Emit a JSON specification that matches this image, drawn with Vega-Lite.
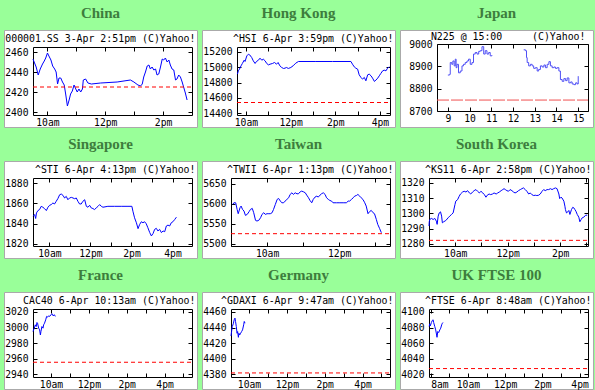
{
"$schema":"https://vega.github.io/schema/vega-lite/v6.json",
"background":"#99ff99",
"padding":{"left":3,"top":5,"right":3,"bottom":5},
"bounds":"flush",
"spacing":{"row":34,"column":5},
"columns":3,
"datasets":{
"china":[{"h":9.5,"v":2453},{"h":9.54,"v":2450},{"h":9.61,"v":2445},{"h":9.68,"v":2437},{"h":9.75,"v":2443},{"h":9.83,"v":2448},{"h":9.89,"v":2451},{"h":9.94,"v":2454},{"h":10.0,"v":2459},{"h":10.05,"v":2456},{"h":10.12,"v":2452},{"h":10.18,"v":2446},{"h":10.25,"v":2443},{"h":10.3,"v":2440},{"h":10.35,"v":2428},{"h":10.4,"v":2434},{"h":10.46,"v":2434},{"h":10.52,"v":2430},{"h":10.58,"v":2427},{"h":10.63,"v":2418},{"h":10.69,"v":2406},{"h":10.75,"v":2412},{"h":10.8,"v":2418},{"h":10.86,"v":2421},{"h":10.92,"v":2427},{"h":10.98,"v":2423},{"h":11.03,"v":2420},{"h":11.09,"v":2423},{"h":11.15,"v":2420},{"h":11.21,"v":2423},{"h":11.24,"v":2432},{"h":11.32,"v":2433},{"h":11.4,"v":2429},{"h":11.52,"v":2428},{"h":11.84,"v":2429},{"h":12.41,"v":2430},{"h":12.87,"v":2432},{"h":12.99,"v":2430},{"h":13.13,"v":2427},{"h":13.22,"v":2426},{"h":13.28,"v":2428},{"h":13.33,"v":2435},{"h":13.39,"v":2440},{"h":13.45,"v":2446},{"h":13.51,"v":2447},{"h":13.56,"v":2443},{"h":13.62,"v":2445},{"h":13.68,"v":2442},{"h":13.74,"v":2443},{"h":13.79,"v":2437},{"h":13.85,"v":2438},{"h":13.91,"v":2445},{"h":13.97,"v":2453},{"h":14.02,"v":2452},{"h":14.08,"v":2454},{"h":14.14,"v":2450},{"h":14.2,"v":2452},{"h":14.25,"v":2447},{"h":14.31,"v":2443},{"h":14.37,"v":2442},{"h":14.43,"v":2432},{"h":14.48,"v":2433},{"h":14.54,"v":2437},{"h":14.6,"v":2435},{"h":14.66,"v":2430},{"h":14.71,"v":2425},{"h":14.77,"v":2419},{"h":14.83,"v":2412}],
"hk":[{"h":9.62,"v":14910},{"h":9.66,"v":14953},{"h":9.71,"v":14975},{"h":9.78,"v":15018},{"h":9.84,"v":15049},{"h":9.92,"v":15092},{"h":9.96,"v":15075},{"h":10.04,"v":15148},{"h":10.11,"v":15170},{"h":10.17,"v":15161},{"h":10.26,"v":15126},{"h":10.33,"v":15083},{"h":10.41,"v":15049},{"h":10.47,"v":15075},{"h":10.56,"v":15092},{"h":10.63,"v":15118},{"h":10.71,"v":15092},{"h":10.78,"v":15105},{"h":10.86,"v":15083},{"h":10.93,"v":15049},{"h":11.01,"v":15031},{"h":11.08,"v":15040},{"h":11.19,"v":15049},{"h":11.28,"v":15062},{"h":11.37,"v":15040},{"h":11.44,"v":15062},{"h":11.52,"v":15018},{"h":11.6,"v":14997},{"h":11.68,"v":14984},{"h":11.75,"v":14988},{"h":11.81,"v":14997},{"h":11.9,"v":14984},{"h":12.01,"v":14997},{"h":12.11,"v":15018},{"h":12.23,"v":15053},{"h":12.35,"v":15075},{"h":13.13,"v":15075},{"h":13.88,"v":15075},{"h":14.7,"v":15075},{"h":14.77,"v":15040},{"h":14.85,"v":15005},{"h":14.92,"v":14988},{"h":15.0,"v":14975},{"h":15.07,"v":14901},{"h":15.15,"v":14867},{"h":15.22,"v":14845},{"h":15.3,"v":14867},{"h":15.37,"v":14823},{"h":15.45,"v":14901},{"h":15.52,"v":14910},{"h":15.6,"v":14888},{"h":15.67,"v":14858},{"h":15.75,"v":14815},{"h":15.82,"v":14832},{"h":15.9,"v":14858},{"h":15.97,"v":14888},{"h":16.04,"v":14919},{"h":16.12,"v":14953},{"h":16.19,"v":14962},{"h":16.27,"v":14953},{"h":16.34,"v":14988},{"h":16.42,"v":15005}],
"japan":[{"seg":1,"h":9.0,"v":8861},{"seg":1,"h":9.08,"v":8864},{"seg":1,"h":9.11,"v":8917},{"seg":1,"h":9.18,"v":8909},{"seg":1,"h":9.23,"v":8924},{"seg":1,"h":9.29,"v":8902},{"seg":1,"h":9.34,"v":8932},{"seg":1,"h":9.38,"v":8894},{"seg":1,"h":9.42,"v":8909},{"seg":1,"h":9.49,"v":8871},{"seg":1,"h":9.57,"v":8879},{"seg":1,"h":9.65,"v":8902},{"seg":1,"h":9.72,"v":8909},{"seg":1,"h":9.8,"v":8917},{"seg":1,"h":9.88,"v":8924},{"seg":1,"h":9.95,"v":8932},{"seg":1,"h":10.03,"v":8909},{"seg":1,"h":10.11,"v":8917},{"seg":1,"h":10.18,"v":8955},{"seg":1,"h":10.26,"v":8962},{"seg":1,"h":10.34,"v":8955},{"seg":1,"h":10.42,"v":8967},{"seg":1,"h":10.49,"v":8970},{"seg":1,"h":10.57,"v":8988},{"seg":1,"h":10.65,"v":8955},{"seg":1,"h":10.72,"v":8970},{"seg":1,"h":10.8,"v":8955},{"seg":1,"h":10.88,"v":8962},{"seg":1,"h":10.95,"v":8947},{"seg":1,"h":11.03,"v":8950},{"seg":2,"h":12.49,"v":8974},{"seg":2,"h":12.57,"v":8970},{"seg":2,"h":12.62,"v":8939},{"seg":2,"h":12.65,"v":8917},{"seg":2,"h":12.72,"v":8902},{"seg":2,"h":12.8,"v":8909},{"seg":2,"h":12.88,"v":8902},{"seg":2,"h":12.95,"v":8891},{"seg":2,"h":13.03,"v":8894},{"seg":2,"h":13.11,"v":8879},{"seg":2,"h":13.18,"v":8886},{"seg":2,"h":13.26,"v":8902},{"seg":2,"h":13.34,"v":8897},{"seg":2,"h":13.42,"v":8906},{"seg":2,"h":13.49,"v":8894},{"seg":2,"h":13.57,"v":8909},{"seg":2,"h":13.65,"v":8921},{"seg":2,"h":13.72,"v":8902},{"seg":2,"h":13.8,"v":8894},{"seg":2,"h":13.88,"v":8897},{"seg":2,"h":13.95,"v":8891},{"seg":2,"h":14.03,"v":8894},{"seg":2,"h":14.11,"v":8879},{"seg":2,"h":14.18,"v":8841},{"seg":2,"h":14.26,"v":8833},{"seg":2,"h":14.34,"v":8845},{"seg":2,"h":14.42,"v":8836},{"seg":2,"h":14.49,"v":8848},{"seg":2,"h":14.57,"v":8826},{"seg":2,"h":14.65,"v":8830},{"seg":2,"h":14.72,"v":8821},{"seg":2,"h":14.8,"v":8818},{"seg":2,"h":14.88,"v":8826},{"seg":2,"h":14.95,"v":8821},{"seg":2,"h":15.0,"v":8856}],
"sing":[{"h":9.21,"v":1847.4},{"h":9.28,"v":1849.0},{"h":9.33,"v":1845.1},{"h":9.37,"v":1850.6},{"h":9.44,"v":1852.9},{"h":9.52,"v":1853.9},{"h":9.6,"v":1857.1},{"h":9.68,"v":1856.2},{"h":9.76,"v":1854.9},{"h":9.85,"v":1852.9},{"h":9.93,"v":1856.2},{"h":10.01,"v":1858.1},{"h":10.09,"v":1858.8},{"h":10.17,"v":1860.4},{"h":10.25,"v":1859.4},{"h":10.33,"v":1862.0},{"h":10.41,"v":1864.6},{"h":10.5,"v":1868.5},{"h":10.58,"v":1869.2},{"h":10.66,"v":1867.9},{"h":10.74,"v":1865.3},{"h":10.82,"v":1866.9},{"h":10.9,"v":1863.6},{"h":10.98,"v":1865.3},{"h":11.07,"v":1865.9},{"h":11.15,"v":1865.3},{"h":11.23,"v":1864.6},{"h":11.31,"v":1865.3},{"h":11.39,"v":1862.0},{"h":11.47,"v":1859.4},{"h":11.55,"v":1859.4},{"h":11.63,"v":1862.0},{"h":11.72,"v":1863.6},{"h":11.8,"v":1857.1},{"h":11.88,"v":1856.2},{"h":11.96,"v":1858.1},{"h":12.04,"v":1855.5},{"h":12.12,"v":1854.9},{"h":12.2,"v":1853.9},{"h":12.28,"v":1855.5},{"h":12.37,"v":1857.1},{"h":12.45,"v":1858.8},{"h":12.53,"v":1857.1},{"h":12.61,"v":1856.2},{"h":12.85,"v":1857.1},{"h":13.18,"v":1857.1},{"h":13.5,"v":1857.1},{"h":13.83,"v":1857.1},{"h":14.02,"v":1857.1},{"h":14.07,"v":1852.3},{"h":14.15,"v":1845.8},{"h":14.24,"v":1840.9},{"h":14.32,"v":1835.1},{"h":14.4,"v":1839.3},{"h":14.48,"v":1841.9},{"h":14.56,"v":1840.9},{"h":14.64,"v":1841.9},{"h":14.72,"v":1839.9},{"h":14.8,"v":1836.0},{"h":14.89,"v":1831.2},{"h":14.97,"v":1827.9},{"h":15.05,"v":1830.2},{"h":15.13,"v":1834.4},{"h":15.21,"v":1835.4},{"h":15.29,"v":1832.8},{"h":15.37,"v":1834.4},{"h":15.46,"v":1831.2},{"h":15.54,"v":1832.8},{"h":15.62,"v":1832.1},{"h":15.7,"v":1837.7},{"h":15.78,"v":1838.6},{"h":15.86,"v":1837.7},{"h":15.94,"v":1840.9},{"h":16.02,"v":1841.9},{"h":16.11,"v":1844.2},{"h":16.19,"v":1846.4}],
"taiwan":[{"h":9.05,"v":5598.6},{"h":9.08,"v":5602.7},{"h":9.13,"v":5602.7},{"h":9.17,"v":5586.0},{"h":9.2,"v":5575.2},{"h":9.25,"v":5590.2},{"h":9.28,"v":5594.4},{"h":9.32,"v":5586.0},{"h":9.36,"v":5581.9},{"h":9.4,"v":5571.0},{"h":9.45,"v":5573.5},{"h":9.5,"v":5580.2},{"h":9.54,"v":5586.0},{"h":9.59,"v":5588.5},{"h":9.63,"v":5577.7},{"h":9.68,"v":5558.5},{"h":9.72,"v":5556.8},{"h":9.77,"v":5558.5},{"h":9.82,"v":5565.1},{"h":9.86,"v":5573.5},{"h":9.91,"v":5577.7},{"h":9.95,"v":5573.5},{"h":10.0,"v":5575.2},{"h":10.05,"v":5575.2},{"h":10.09,"v":5575.2},{"h":10.14,"v":5577.7},{"h":10.18,"v":5586.0},{"h":10.23,"v":5598.6},{"h":10.28,"v":5611.1},{"h":10.32,"v":5613.6},{"h":10.37,"v":5606.9},{"h":10.41,"v":5602.7},{"h":10.46,"v":5602.7},{"h":10.5,"v":5606.9},{"h":10.55,"v":5611.1},{"h":10.6,"v":5615.3},{"h":10.64,"v":5623.7},{"h":10.69,"v":5627.8},{"h":10.73,"v":5623.7},{"h":10.78,"v":5627.8},{"h":10.83,"v":5625.3},{"h":10.87,"v":5625.3},{"h":10.92,"v":5630.3},{"h":10.96,"v":5632.0},{"h":11.01,"v":5630.3},{"h":11.06,"v":5627.8},{"h":11.1,"v":5622.0},{"h":11.15,"v":5615.3},{"h":11.19,"v":5608.6},{"h":11.24,"v":5602.7},{"h":11.28,"v":5611.1},{"h":11.33,"v":5617.0},{"h":11.38,"v":5619.4},{"h":11.42,"v":5617.0},{"h":11.47,"v":5622.0},{"h":11.51,"v":5625.3},{"h":11.56,"v":5627.8},{"h":11.61,"v":5623.7},{"h":11.65,"v":5615.3},{"h":11.7,"v":5611.1},{"h":11.74,"v":5608.6},{"h":11.79,"v":5606.9},{"h":11.83,"v":5602.7},{"h":11.93,"v":5602.7},{"h":12.02,"v":5602.7},{"h":12.11,"v":5602.7},{"h":12.2,"v":5602.7},{"h":12.25,"v":5606.9},{"h":12.29,"v":5606.9},{"h":12.34,"v":5611.1},{"h":12.39,"v":5615.3},{"h":12.43,"v":5619.4},{"h":12.48,"v":5621.1},{"h":12.52,"v":5623.7},{"h":12.57,"v":5619.4},{"h":12.61,"v":5615.3},{"h":12.66,"v":5611.1},{"h":12.71,"v":5602.7},{"h":12.75,"v":5594.4},{"h":12.8,"v":5575.2},{"h":12.84,"v":5580.2},{"h":12.89,"v":5583.5},{"h":12.94,"v":5577.7},{"h":12.98,"v":5575.2},{"h":13.03,"v":5561.0},{"h":13.07,"v":5548.4},{"h":13.12,"v":5538.4},{"h":13.17,"v":5527.5}],
"korea":[{"h":9.0,"v":1291.7},{"h":9.01,"v":1294.5},{"h":9.03,"v":1296.0},{"h":9.09,"v":1296.7},{"h":9.16,"v":1296.0},{"h":9.22,"v":1296.7},{"h":9.28,"v":1294.9},{"h":9.31,"v":1292.8},{"h":9.35,"v":1298.2},{"h":9.39,"v":1300.3},{"h":9.44,"v":1301.0},{"h":9.48,"v":1298.2},{"h":9.51,"v":1293.8},{"h":9.56,"v":1294.5},{"h":9.64,"v":1295.3},{"h":9.73,"v":1297.1},{"h":9.79,"v":1298.2},{"h":9.86,"v":1299.3},{"h":9.92,"v":1300.3},{"h":9.99,"v":1305.8},{"h":10.02,"v":1308.0},{"h":10.09,"v":1309.0},{"h":10.15,"v":1311.2},{"h":10.2,"v":1312.7},{"h":10.28,"v":1314.0},{"h":10.34,"v":1314.5},{"h":10.41,"v":1314.0},{"h":10.47,"v":1314.9},{"h":10.54,"v":1313.4},{"h":10.59,"v":1312.7},{"h":10.66,"v":1314.0},{"h":10.72,"v":1314.9},{"h":10.79,"v":1315.6},{"h":10.85,"v":1314.5},{"h":10.92,"v":1313.4},{"h":10.98,"v":1314.5},{"h":11.05,"v":1313.4},{"h":11.11,"v":1312.3},{"h":11.17,"v":1310.6},{"h":11.22,"v":1311.9},{"h":11.29,"v":1312.7},{"h":11.35,"v":1312.3},{"h":11.42,"v":1312.7},{"h":11.48,"v":1313.4},{"h":11.56,"v":1312.7},{"h":11.62,"v":1313.4},{"h":11.68,"v":1314.0},{"h":11.75,"v":1314.9},{"h":11.81,"v":1315.6},{"h":11.86,"v":1316.2},{"h":11.91,"v":1315.6},{"h":11.97,"v":1314.9},{"h":12.03,"v":1314.5},{"h":12.09,"v":1315.6},{"h":12.16,"v":1314.9},{"h":12.22,"v":1314.0},{"h":12.28,"v":1313.4},{"h":12.35,"v":1314.0},{"h":12.41,"v":1314.9},{"h":12.48,"v":1315.6},{"h":12.54,"v":1316.2},{"h":12.6,"v":1316.7},{"h":12.67,"v":1315.6},{"h":12.73,"v":1314.5},{"h":12.8,"v":1312.7},{"h":12.86,"v":1313.4},{"h":12.92,"v":1312.3},{"h":12.99,"v":1311.7},{"h":13.05,"v":1311.9},{"h":13.11,"v":1311.7},{"h":13.18,"v":1311.9},{"h":13.24,"v":1312.7},{"h":13.31,"v":1314.5},{"h":13.37,"v":1315.6},{"h":13.43,"v":1314.9},{"h":13.5,"v":1315.6},{"h":13.56,"v":1315.6},{"h":13.63,"v":1316.2},{"h":13.69,"v":1315.6},{"h":13.75,"v":1316.2},{"h":13.82,"v":1316.7},{"h":13.88,"v":1316.2},{"h":13.95,"v":1312.7},{"h":13.98,"v":1309.7},{"h":14.03,"v":1310.6},{"h":14.07,"v":1310.1},{"h":14.14,"v":1308.0},{"h":14.18,"v":1304.7},{"h":14.2,"v":1302.5},{"h":14.24,"v":1300.3},{"h":14.29,"v":1301.0},{"h":14.33,"v":1301.9},{"h":14.37,"v":1299.3},{"h":14.39,"v":1300.3},{"h":14.43,"v":1302.5},{"h":14.48,"v":1304.0},{"h":14.52,"v":1303.6},{"h":14.56,"v":1302.5},{"h":14.6,"v":1301.4},{"h":14.65,"v":1299.3},{"h":14.71,"v":1297.5},{"h":14.75,"v":1294.5},{"h":14.8,"v":1296.0},{"h":14.84,"v":1297.1},{"h":14.9,"v":1297.5},{"h":14.97,"v":1298.8},{"h":15.03,"v":1298.8}],
"france":[{"h":9.05,"v":2994.9},{"h":9.08,"v":2997.0},{"h":9.12,"v":2999.2},{"h":9.17,"v":3003.5},{"h":9.22,"v":3001.3},{"h":9.26,"v":3006.5},{"h":9.29,"v":3005.6},{"h":9.35,"v":2999.2},{"h":9.4,"v":2997.0},{"h":9.44,"v":2990.5},{"h":9.47,"v":2994.9},{"h":9.52,"v":3001.3},{"h":9.58,"v":2999.2},{"h":9.61,"v":3003.5},{"h":9.66,"v":3005.6},{"h":9.72,"v":3009.9},{"h":9.77,"v":3014.3},{"h":9.82,"v":3013.4},{"h":9.88,"v":3015.1},{"h":9.93,"v":3014.3},{"h":10.0,"v":3016.4},{"h":10.05,"v":3017.7},{"h":10.11,"v":3015.1},{"h":10.18,"v":3016.4},{"h":10.23,"v":3014.3}],
"germany":[{"h":9.05,"v":4429.2},{"h":9.08,"v":4434.9},{"h":9.12,"v":4441.3},{"h":9.17,"v":4444.8},{"h":9.22,"v":4450.0},{"h":9.26,"v":4452.1},{"h":9.29,"v":4447.8},{"h":9.33,"v":4441.3},{"h":9.37,"v":4432.7},{"h":9.4,"v":4434.9},{"h":9.44,"v":4427.5},{"h":9.47,"v":4432.7},{"h":9.51,"v":4430.5},{"h":9.56,"v":4432.7},{"h":9.61,"v":4434.9},{"h":9.66,"v":4437.0},{"h":9.72,"v":4443.5},{"h":9.75,"v":4447.8},{"h":9.79,"v":4445.6}],
"uk":[{"h":7.92,"v":4081.3},{"h":7.95,"v":4084.8},{"h":7.98,"v":4082.2},{"h":8.04,"v":4086.5},{"h":8.09,"v":4089.1},{"h":8.13,"v":4090.0},{"h":8.16,"v":4086.5},{"h":8.22,"v":4081.3},{"h":8.27,"v":4077.0},{"h":8.31,"v":4071.8},{"h":8.34,"v":4067.5},{"h":8.38,"v":4074.9},{"h":8.43,"v":4073.6},{"h":8.49,"v":4077.0},{"h":8.54,"v":4079.2},{"h":8.59,"v":4083.5},{"h":8.63,"v":4085.6},{"h":8.66,"v":4086.5}]
},
"concat":[
{"title":{"text":"China"},"width":193,"height":97,
 "layer":[
  {"data":{"name":"china"},"mark":{"type":"line","color":"#0000ff","strokeWidth":1},
   "encoding":{
    "x":{"field":"h","type":"quantitative","scale":{"domain":[9.5,15],"range":[29,188],"nice":false,"zero":false},"axis":{"orient":"bottom","offset":-12,"values":[10,11,12,13,14],"labelExpr":"datum.value % 2 == 0 ? (datum.value < 12 ? datum.value + 'am' : (datum.value == 12 ? '12pm' : (datum.value - 12) + 'pm')) : ''","title":null}},
    "y":{"field":"v","type":"quantitative","scale":{"domain":[2397,2465],"range":[85,17],"nice":false,"zero":false},"axis":{"orient":"left","offset":-29,"values":[2400,2420,2440,2460],"title":null}}}},
  {"data":{"values":[{"close":2425}]},"mark":{"type":"rule","color":"#ff0000","strokeDash":[4,3],"strokeWidth":1},
   "encoding":{
    "y":{"field":"close","type":"quantitative","axis":{"orient":"right","offset":-5,"values":[2400,2420,2440,2460],"labels":false,"title":null}},
    "x":{"datum":9.5,"type":"quantitative","axis":{"orient":"top","offset":-17,"values":[10,11,12,13,14],"labels":false,"title":"000001.SS 3-Apr 2:51pm (C)Yahoo!"}},
    "x2":{"datum":15}}}],
 "resolve":{"axis":{"x":"independent","y":"independent"}}},
{"title":{"text":"Hong Kong"},"width":193,"height":97,
 "layer":[
  {"data":{"name":"hk"},"mark":{"type":"line","color":"#0000ff","strokeWidth":1},
   "encoding":{
    "x":{"field":"h","type":"quantitative","scale":{"domain":[9.6,16.45],"range":[35,188],"nice":false,"zero":false},"axis":{"orient":"bottom","offset":-12,"values":[10,11,12,13,14,15,16],"labelExpr":"datum.value % 2 == 0 ? (datum.value < 12 ? datum.value + 'am' : (datum.value == 12 ? '12pm' : (datum.value - 12) + 'pm')) : ''","title":null}},
    "y":{"field":"v","type":"quantitative","scale":{"domain":[14377,15264],"range":[85,17],"nice":false,"zero":false},"axis":{"orient":"left","offset":-35,"values":[14400,14600,14800,15000,15200],"title":null}}}},
  {"data":{"values":[{"close":14540}]},"mark":{"type":"rule","color":"#ff0000","strokeDash":[4,3],"strokeWidth":1},
   "encoding":{
    "y":{"field":"close","type":"quantitative","axis":{"orient":"right","offset":-5,"values":[14400,14600,14800,15000,15200],"labels":false,"title":null}},
    "x":{"datum":9.6,"type":"quantitative","axis":{"orient":"top","offset":-17,"values":[10,11,12,13,14,15,16],"labels":false,"title":"^HSI 6-Apr 3:59pm (C)Yahoo!"}},
    "x2":{"datum":16.45}}}],
 "resolve":{"axis":{"x":"independent","y":"independent"}}},
{"title":{"text":"Japan"},"width":193,"height":97,
 "layer":[
  {"data":{"name":"japan"},"mark":{"type":"line","color":"#5050f5","strokeWidth":1,"interpolate":"step-after"},
   "encoding":{
    "x":{"field":"h","type":"quantitative","scale":{"domain":[8.5,15.45],"range":[37,188],"nice":false,"zero":false},"axis":{"orient":"bottom","offset":-16,"values":[9,10,11,12,13,14,15],"format":"d","title":null}},
    "y":{"field":"v","type":"quantitative","scale":{"domain":[8700,9000],"range":[81,14],"nice":false,"zero":false},"axis":{"orient":"left","offset":-37,"values":[8700,8800,8900,9000],"title":null}},
    "detail":{"field":"seg","type":"nominal"}}},
  {"data":{"values":[{"close":8749}]},"mark":{"type":"rule","color":"#f05050","strokeDash":[12,2],"strokeWidth":1},
   "encoding":{
    "y":{"field":"close","type":"quantitative","axis":{"orient":"right","offset":-5,"values":[8700,8800,8900,9000],"labels":false,"title":null}},
    "x":{"datum":8.5,"type":"quantitative","axis":{"orient":"top","offset":-14,"values":[9,10,11,12,13,14,15],"labels":false,"title":"N225 @ 15:00\u00a0\u00a0\u00a0\u00a0\u00a0(C)Yahoo!","titleX":185,"titleY":-5}},
    "x2":{"datum":15.45}}}],
 "resolve":{"axis":{"x":"independent","y":"independent"}}},
{"title":{"text":"Singapore"},"width":193,"height":97,
 "layer":[
  {"data":{"name":"sing"},"mark":{"type":"line","color":"#0000ff","strokeWidth":1},
   "encoding":{
    "x":{"field":"h","type":"quantitative","scale":{"domain":[9.2,16.95],"range":[29,188],"nice":false,"zero":false},"axis":{"orient":"bottom","offset":-12,"values":[10,11,12,13,14,15,16],"labelExpr":"datum.value % 2 == 0 ? (datum.value < 12 ? datum.value + 'am' : (datum.value == 12 ? '12pm' : (datum.value - 12) + 'pm')) : ''","title":null}},
    "y":{"field":"v","type":"quantitative","scale":{"domain":[1818,1885],"range":[85,17],"nice":false,"zero":false},"axis":{"orient":"left","offset":-29,"values":[1820,1840,1860,1880],"title":null}}}},
  {"data":{"values":[]},"mark":{"type":"rule","color":"#ff0000","strokeDash":[4,3],"strokeWidth":1},
   "encoding":{
    "y":{"field":"close","type":"quantitative","axis":{"orient":"right","offset":-5,"values":[1820,1840,1860,1880],"labels":false,"title":null}},
    "x":{"datum":9.2,"type":"quantitative","axis":{"orient":"top","offset":-17,"values":[10,11,12,13,14,15,16],"labels":false,"title":"^STI 6-Apr 4:13pm (C)Yahoo!"}},
    "x2":{"datum":16.95}}}],
 "resolve":{"axis":{"x":"independent","y":"independent"}}},
{"title":{"text":"Taiwan"},"width":193,"height":97,
 "layer":[
  {"data":{"name":"taiwan"},"mark":{"type":"line","color":"#0000ff","strokeWidth":1},
   "encoding":{
    "x":{"field":"h","type":"quantitative","scale":{"domain":[9,13.41],"range":[29,188],"nice":false,"zero":false},"axis":{"orient":"bottom","offset":-12,"values":[9,10,11,12,13],"labelExpr":"datum.value % 2 == 0 ? (datum.value < 12 ? datum.value + 'am' : (datum.value == 12 ? '12pm' : (datum.value - 12) + 'pm')) : ''","title":null}},
    "y":{"field":"v","type":"quantitative","scale":{"domain":[5494,5665],"range":[85,17],"nice":false,"zero":false},"axis":{"orient":"left","offset":-29,"values":[5500,5550,5600,5650],"title":null}}}},
  {"data":{"values":[{"close":5525}]},"mark":{"type":"rule","color":"#ff0000","strokeDash":[4,3],"strokeWidth":1},
   "encoding":{
    "y":{"field":"close","type":"quantitative","axis":{"orient":"right","offset":-5,"values":[5500,5550,5600,5650],"labels":false,"title":null}},
    "x":{"datum":9,"type":"quantitative","axis":{"orient":"top","offset":-17,"values":[9,10,11,12,13],"labels":false,"title":"^TWII 6-Apr 1:13pm (C)Yahoo!"}},
    "x2":{"datum":13.41}}}],
 "resolve":{"axis":{"x":"independent","y":"independent"}}},
{"title":{"text":"South Korea"},"width":193,"height":97,
 "layer":[
  {"data":{"name":"korea"},"mark":{"type":"line","color":"#0000ff","strokeWidth":1},
   "encoding":{
    "x":{"field":"h","type":"quantitative","scale":{"domain":[9,15.06],"range":[29,188],"nice":false,"zero":false},"axis":{"orient":"bottom","offset":-12,"values":[9,10,11,12,13,14,15],"labelExpr":"datum.value % 2 == 0 ? (datum.value < 12 ? datum.value + 'am' : (datum.value == 12 ? '12pm' : (datum.value - 12) + 'pm')) : ''","title":null}},
    "y":{"field":"v","type":"quantitative","scale":{"domain":[1278.6,1323.2],"range":[85,17],"nice":false,"zero":false},"axis":{"orient":"left","offset":-29,"values":[1280,1290,1300,1310,1320],"title":null}}}},
  {"data":{"values":[{"close":1282.3}]},"mark":{"type":"rule","color":"#ff0000","strokeDash":[4,3],"strokeWidth":1},
   "encoding":{
    "y":{"field":"close","type":"quantitative","axis":{"orient":"right","offset":-5,"values":[1280,1290,1300,1310,1320],"labels":false,"title":null}},
    "x":{"datum":9,"type":"quantitative","axis":{"orient":"top","offset":-17,"values":[9,10,11,12,13,14,15],"labels":false,"title":"^KS11 6-Apr 2:58pm (C)Yahoo!"}},
    "x2":{"datum":15.06}}}],
 "resolve":{"axis":{"x":"independent","y":"independent"}}},
{"title":{"text":"France"},"width":193,"height":97,
 "layer":[
  {"data":{"name":"france"},"mark":{"type":"line","color":"#0000ff","strokeWidth":1},
   "encoding":{
    "x":{"field":"h","type":"quantitative","scale":{"domain":[9.05,17.45],"range":[29,188],"nice":false,"zero":false},"axis":{"orient":"bottom","offset":-12,"values":[10,11,12,13,14,15,16,17],"labelExpr":"datum.value % 2 == 0 ? (datum.value < 12 ? datum.value + 'am' : (datum.value == 12 ? '12pm' : (datum.value - 12) + 'pm')) : ''","title":null}},
    "y":{"field":"v","type":"quantitative","scale":{"domain":[2936.6,3023.8],"range":[85,17],"nice":false,"zero":false},"axis":{"orient":"left","offset":-29,"values":[2940,2960,2980,3000,3020],"title":null}}}},
  {"data":{"values":[{"close":2955.5}]},"mark":{"type":"rule","color":"#ff0000","strokeDash":[4,3],"strokeWidth":1},
   "encoding":{
    "y":{"field":"close","type":"quantitative","axis":{"orient":"right","offset":-5,"values":[2940,2960,2980,3000,3020],"labels":false,"title":null}},
    "x":{"datum":9.05,"type":"quantitative","axis":{"orient":"top","offset":-17,"values":[10,11,12,13,14,15,16,17],"labels":false,"title":"CAC40 6-Apr 10:13am (C)Yahoo!"}},
    "x2":{"datum":17.45}}}],
 "resolve":{"axis":{"x":"independent","y":"independent"}}},
{"title":{"text":"Germany"},"width":193,"height":97,
 "layer":[
  {"data":{"name":"germany"},"mark":{"type":"line","color":"#0000ff","strokeWidth":1},
   "encoding":{
    "x":{"field":"h","type":"quantitative","scale":{"domain":[9.05,17.45],"range":[29,188],"nice":false,"zero":false},"axis":{"orient":"bottom","offset":-12,"values":[10,11,12,13,14,15,16,17],"labelExpr":"datum.value % 2 == 0 ? (datum.value < 12 ? datum.value + 'am' : (datum.value == 12 ? '12pm' : (datum.value - 12) + 'pm')) : ''","title":null}},
    "y":{"field":"v","type":"quantitative","scale":{"domain":[4376.6,4463.8],"range":[85,17],"nice":false,"zero":false},"axis":{"orient":"left","offset":-29,"values":[4380,4400,4420,4440,4460],"title":null}}}},
  {"data":{"values":[{"close":4381.8}]},"mark":{"type":"rule","color":"#ff0000","strokeDash":[4,3],"strokeWidth":1},
   "encoding":{
    "y":{"field":"close","type":"quantitative","axis":{"orient":"right","offset":-5,"values":[4380,4400,4420,4440,4460],"labels":false,"title":null}},
    "x":{"datum":9.05,"type":"quantitative","axis":{"orient":"top","offset":-17,"values":[10,11,12,13,14,15,16,17],"labels":false,"title":"^GDAXI 6-Apr 9:47am (C)Yahoo!"}},
    "x2":{"datum":17.45}}}],
 "resolve":{"axis":{"x":"independent","y":"independent"}}},
{"title":{"text":"UK FTSE 100"},"width":193,"height":97,
 "layer":[
  {"data":{"name":"uk"},"mark":{"type":"line","color":"#0000ff","strokeWidth":1},
   "encoding":{
    "x":{"field":"h","type":"quantitative","scale":{"domain":[7.91,16.45],"range":[29,188],"nice":false,"zero":false},"axis":{"orient":"bottom","offset":-12,"values":[8,9,10,11,12,13,14,15,16],"labelExpr":"datum.value % 2 == 0 ? (datum.value < 12 ? datum.value + 'am' : (datum.value == 12 ? '12pm' : (datum.value - 12) + 'pm')) : ''","labelAlign":{"condition":{"test":"datum.value == 8","value":"left"},"value":"center"},"title":null}},
    "y":{"field":"v","type":"quantitative","scale":{"domain":[4016.6,4103.8],"range":[85,17],"nice":false,"zero":false},"axis":{"orient":"left","offset":-29,"values":[4020,4040,4060,4080,4100],"title":null}}}},
  {"data":{"values":[{"close":4027.4}]},"mark":{"type":"rule","color":"#ff0000","strokeDash":[4,3],"strokeWidth":1},
   "encoding":{
    "y":{"field":"close","type":"quantitative","axis":{"orient":"right","offset":-5,"values":[4020,4040,4060,4080,4100],"labels":false,"title":null}},
    "x":{"datum":7.91,"type":"quantitative","axis":{"orient":"top","offset":-17,"values":[8,9,10,11,12,13,14,15,16],"labels":false,"title":"^FTSE 6-Apr 8:48am (C)Yahoo!"}},
    "x2":{"datum":16.45}}}],
 "resolve":{"axis":{"x":"independent","y":"independent"}}}
],
"config":{
 "view":{"fill":"white","stroke":"#aaaaaa","strokeWidth":1},
 "axis":{"grid":false,"domainColor":"black","domainWidth":1,"tickColor":"black","tickSize":-4,"tickWidth":1,"labelFont":"DejaVu Sans Mono","labelFontSize":9.7,"labelColor":"black","labelOverlap":false,"labelFlush":false,"labelBound":false,"titleFont":"DejaVu Sans Mono","titleFontSize":9.9,"titleFontWeight":"normal","titleColor":"black","titleAlign":"right","titleBaseline":"alphabetic","titleAnchor":"end","titleX":191,"titleY":-6,"format":"d"},
 "axisLeft":{"labelPadding":9},
 "axisBottom":{"labelPadding":6},
 "title":{"font":"Liberation Serif","fontSize":15,"fontWeight":"bold","color":"#3d7d3d","anchor":"middle","offset":9,"baseline":"alphabetic"}
}
}
